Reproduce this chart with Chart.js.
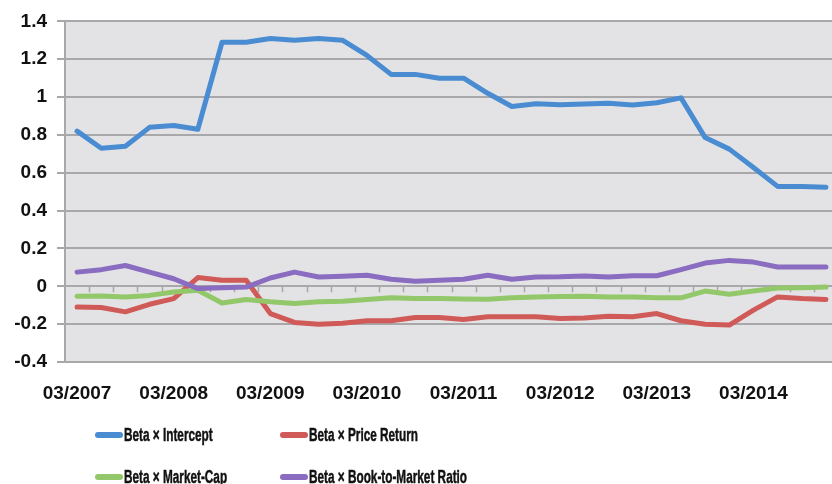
<!DOCTYPE html>
<html>
<head>
<meta charset="utf-8">
<script src="https://cdn.jsdelivr.net/npm/chart.js@4"></script>
<style>
  html, body { margin: 0; padding: 0; background: #fff; overflow: hidden; }
  #wrap { position: relative; width: 840px; height: 484px; }
  .legend { position: absolute; font-family: "Liberation Sans", Arial, sans-serif;
            font-weight: bold; font-size: 19px; color: #111; display: flex; align-items: center; white-space: nowrap; }
  .legend span.sw { display: inline-block; width: 28px; height: 6px; border-radius: 3px; margin-right: 1px; }
  .legend span.tx { display: inline-block; transform: scaleX(0.62); transform-origin: left center;
                    -webkit-text-stroke: 0.5px #111; }
</style>
</head>
<body>
<div id="wrap">
  <canvas id="betaChart" width="840" height="484"></canvas>
</div>
<script>
// quarterly, 03/2007 .. 12/2014
const quarters = [];
for (let y = 2007; y <= 2014; y++) {
    ['03', '06', '09', '12'].forEach(m => quarters.push(m + '/' + y));
}

const seriesNames = ['Beta × Intercept', 'Beta × Price Return', 'Beta × Market-Cap', 'Beta × Book-to-Market Ratio'];
const seriesColors = ['#4a8cd2', '#d05a58', '#93c86a', '#8a6cc0'];

const intercept = [0.82, 0.73, 0.74, 0.84, 0.85, 0.83, 1.29, 1.29, 1.31, 1.30, 1.31, 1.30,
                   1.22, 1.12, 1.12, 1.10, 1.10, 1.02, 0.95, 0.965, 0.96, 0.963, 0.968, 0.958,
                   0.97, 0.996, 0.786, 0.725, 0.628, 0.528, 0.528, 0.523];
const priceReturn = [-0.109, -0.112, -0.135, -0.095, -0.065, 0.046, 0.032, 0.032, -0.144, -0.191, -0.2, -0.195,
                     -0.182, -0.182, -0.165, -0.165, -0.175, -0.161, -0.161, -0.161, -0.17, -0.167, -0.158, -0.161,
                     -0.144, -0.182, -0.2, -0.205, -0.126, -0.056, -0.065, -0.07];
const marketCap = [-0.053, -0.051, -0.056, -0.048, -0.03, -0.021, -0.088, -0.07, -0.082, -0.091, -0.082, -0.079,
                   -0.07, -0.061, -0.065, -0.065, -0.067, -0.068, -0.061, -0.056, -0.054, -0.053, -0.056, -0.056,
                   -0.06, -0.061, -0.025, -0.042, -0.025, -0.009, -0.007, -0.004];
const bookToMarket = [0.075, 0.088, 0.11, 0.075, 0.04, -0.012, -0.008, -0.004, 0.044, 0.075, 0.049, 0.053,
                      0.058, 0.037, 0.027, 0.032, 0.037, 0.058, 0.037, 0.049, 0.05, 0.054, 0.049, 0.056,
                      0.056, 0.088, 0.123, 0.137, 0.128, 0.102, 0.102, 0.102];

const allSeries = [intercept, priceReturn, marketCap, bookToMarket];
const gridGrey = '#a8a8aa';
const tickFont = { family: '"Liberation Sans", Arial, sans-serif', size: 19, weight: 'bold' };

const plotBackground = {
    id: 'plotBackground',
    beforeDraw(chart) {
        const { ctx, chartArea } = chart;
        ctx.save();
        ctx.fillStyle = '#e3e3e5';
        ctx.fillRect(chartArea.left, chartArea.top, chartArea.right - chartArea.left, chartArea.bottom - chartArea.top);
        ctx.restore();
    }
};

// small tick marks on the zero line, between categories (Excel style)
const zeroTicks = {
    id: 'zeroTicks',
    beforeDatasetsDraw(chart) {
        const { ctx } = chart;
        const xs = chart.scales.x, ys = chart.scales.y;
        const y0 = ys.getPixelForValue(0);
        const step = xs.width / quarters.length;
        ctx.save();
        ctx.strokeStyle = gridGrey;
        ctx.lineWidth = 1.5;
        ctx.beginPath();
        for (let i = 1; i < quarters.length; i++) {
            const x = Math.round(xs.left + i * step) + 0.5;
            ctx.moveTo(x, y0);
            ctx.lineTo(x, y0 + 6);
        }
        ctx.stroke();
        ctx.restore();
    }
};

new Chart('betaChart', {
    type: 'line',
    data: {
        labels: quarters,
        datasets: allSeries.map((vals, i) => ({
            label: seriesNames[i],
            data: vals,
            borderColor: seriesColors[i],
            backgroundColor: seriesColors[i],
            borderWidth: 5,
            pointRadius: 0,
            tension: 0,
            borderCapStyle: 'round',
            borderJoinStyle: 'round',
            order: 3 - i
        }))
    },
    options: {
        responsive: false,
        animation: false,
        layout: { padding: { top: 20, right: 2, bottom: 72, left: 0 } },
        plugins: {
            legend: { display: false },
            tooltip: { enabled: false }
        },
        scales: {
            x: {
                offset: true,
                grid: { display: false },
                border: { display: true, color: gridGrey, width: 2 },
                ticks: {
                    font: tickFont,
                    color: '#111',
                    padding: 12,
                    autoSkip: false,
                    maxRotation: 0,
                    callback: function (val, idx) { return idx % 4 === 0 ? quarters[idx] : ''; }
                },
                afterFit(scale) { scale.height = 50; }
            },
            y: {
                min: -0.4,
                max: 1.4,
                ticks: {
                    stepSize: 0.2,
                    font: tickFont,
                    color: '#111',
                    padding: 10,
                    callback: v => Math.round(v * 10) / 10
                },
                grid: { color: gridGrey, lineWidth: 2, tickLength: 8 },
                border: { display: true, color: gridGrey, width: 2 },
                afterFit(scale) { scale.width = 65; }
            }
        }
    },
    plugins: [plotBackground, zeroTicks]
});

// legend, two columns like the original
const legendPos = [[95, 435], [280, 435], [95, 477], [280, 477]];
const wrap = document.getElementById('wrap');
seriesNames.forEach((name, i) => {
    const el = document.createElement('div');
    el.className = 'legend';
    el.style.left = legendPos[i][0] + 'px';
    el.style.top = (legendPos[i][1] - 11) + 'px';
    el.innerHTML = '<span class="sw" style="background:' + seriesColors[i] + '"></span><span class="tx">' + name + '</span>';
    wrap.appendChild(el);
});
</script>
</body>
</html>
